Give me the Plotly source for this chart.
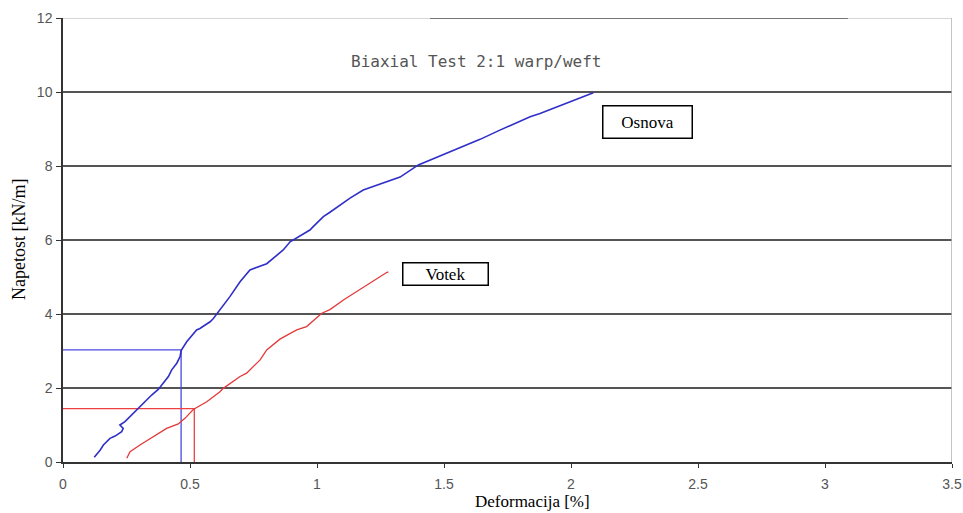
import plotly.graph_objects as go

# Osnova (warp) curve
osnova_x = [0.123, 0.146, 0.159, 0.185, 0.205, 0.231, 0.237, 0.224, 0.244, 0.270, 0.297, 0.323,
            0.349, 0.375, 0.389, 0.408, 0.415, 0.428, 0.448, 0.461, 0.465, 0.487, 0.500, 0.526,
            0.539, 0.579, 0.592, 0.612, 0.657, 0.697, 0.736, 0.802, 0.854, 0.867, 0.894, 0.933,
            0.972, 0.985, 1.025, 1.051, 1.130, 1.182, 1.261, 1.327, 1.399, 1.445, 1.524, 1.642,
            1.720, 1.839, 1.878, 2.088]
osnova_y = [0.13, 0.32, 0.46, 0.64, 0.70, 0.82, 0.91, 1.00, 1.09, 1.27, 1.45, 1.63,
            1.81, 1.96, 2.08, 2.22, 2.31, 2.49, 2.67, 2.85, 3.01, 3.25, 3.35, 3.57,
            3.61, 3.79, 3.88, 4.06, 4.47, 4.87, 5.19, 5.36, 5.64, 5.73, 5.95, 6.12,
            6.27, 6.36, 6.63, 6.75, 7.13, 7.35, 7.53, 7.70, 8.03, 8.16, 8.39, 8.72,
            8.97, 9.33, 9.42, 9.98]

# Votek (weft) curve
votek_x = [0.251, 0.264, 0.303, 0.369, 0.408, 0.454, 0.480, 0.513, 0.566, 0.618, 0.631, 0.697,
           0.723, 0.776, 0.802, 0.854, 0.920, 0.959, 1.019, 1.051, 1.104, 1.274, 1.281]
votek_y = [0.10, 0.28, 0.46, 0.73, 0.91, 1.03, 1.18, 1.42, 1.63, 1.90, 1.99, 2.31,
           2.40, 2.76, 3.03, 3.32, 3.57, 3.66, 4.02, 4.12, 4.38, 5.12, 5.14]

# Guide lines (yield points)
osnova_guide_x = [0, 0.465, 0.465]
osnova_guide_y = [3.03, 3.03, 0]
votek_guide_x = [0, 0.517, 0.517]
votek_guide_y = [1.44, 1.44, 0]

x_ticks = [0, 0.5, 1, 1.5, 2, 2.5, 3, 3.5]
x_tick_labels = ["0", "0.5", "1", "1.5", "2", "2.5", "3", "3.5"]
y_ticks = [0, 2, 4, 6, 8, 10, 12]

BLUE = "#2f2fc8"
RED = "#e23a3a"

fig = go.Figure()
fig.add_trace(go.Scatter(x=osnova_guide_x, y=osnova_guide_y, mode="lines",
                         line=dict(color="#4a4ae0", width=1.3), showlegend=False, hoverinfo="skip"))
fig.add_trace(go.Scatter(x=votek_guide_x, y=votek_guide_y, mode="lines",
                         line=dict(color="#ee4040", width=1.3), showlegend=False, hoverinfo="skip"))
fig.add_trace(go.Scatter(x=osnova_x, y=osnova_y, mode="lines", name="Osnova",
                         line=dict(color=BLUE, width=1.6), showlegend=False))
fig.add_trace(go.Scatter(x=votek_x, y=votek_y, mode="lines", name="Votek",
                         line=dict(color=RED, width=1.3), showlegend=False))

# Top border: dark segment in the middle, light elsewhere; right border light
fig.add_shape(type="line", xref="x", yref="y", x0=0, x1=3.5, y0=12, y1=12,
              line=dict(color="#c8c8c8", width=1.5))
fig.add_shape(type="line", xref="x", yref="y", x0=1.445, x1=3.09, y0=12, y1=12,
              line=dict(color="#555555", width=1.5))
fig.add_shape(type="line", xref="x", yref="y", x0=3.5, x1=3.5, y0=0, y1=12,
              line=dict(color="#b0b0b0", width=1.5))

fig.add_annotation(x=0.4646, y=0.928, xref="paper", yref="paper",
                   text="Biaxial Test 2:1 warp/weft", showarrow=False,
                   font=dict(family="DejaVu Sans Mono", size=16, color="#555555"))
fig.add_annotation(x=2.303, y=9.18, xref="x", yref="y", text="Osnova", showarrow=False,
                   font=dict(family="Liberation Serif", size=17, color="black"),
                   bordercolor="black", borderwidth=1.5, borderpad=6, bgcolor="white",
                   width=76)
fig.add_annotation(x=1.506, y=5.09, xref="x", yref="y", text="Votek", showarrow=False,
                   font=dict(family="Liberation Serif", size=17, color="black"),
                   bordercolor="black", borderwidth=1.5, borderpad=1, bgcolor="white",
                   width=82)
fig.add_annotation(x=(532 - 63) / 889, y=-0.089, xref="paper", yref="paper",
                   text="Deformacija [%]", showarrow=False, xanchor="center", yanchor="middle",
                   font=dict(family="Liberation Serif", size=17, color="black"))
fig.add_annotation(x=(19 - 63) / 889, y=0.5, xref="paper", yref="paper",
                   text="Napetost [kN/m]", showarrow=False, textangle=-90,
                   xanchor="center", yanchor="middle",
                   font=dict(family="Liberation Serif", size=18, color="black"))

fig.update_layout(
    width=963, height=513,
    margin=dict(l=63, r=11, t=18, b=51),
    paper_bgcolor="white", plot_bgcolor="white",
    showlegend=False,
    xaxis=dict(range=[0, 3.5], tickvals=x_ticks, ticktext=x_tick_labels,
               showgrid=False, zeroline=False, showline=True, linecolor="#333333", linewidth=1.5,
               ticks="outside", ticklen=4, tickcolor="#333333", automargin=False,
               ticklabelstandoff=4,
               tickfont=dict(family="Liberation Sans", size=14, color="#555555")),
    yaxis=dict(range=[0, 12], tickvals=y_ticks, showgrid=True, gridcolor="#555555", gridwidth=1.5,
               zeroline=False, showline=True, linecolor="#333333", linewidth=1.5,
               ticks="outside", ticklen=5, tickcolor="#333333", automargin=False,
               ticklabelstandoff=1,
               tickfont=dict(family="Liberation Sans", size=14, color="#555555")),
)

# Remove the default page margin so the figure fills the window exactly.
fig.write_html("out.html", config={"displayModeBar": False},
               post_script="document.body.style.margin='0';document.body.style.overflow='hidden';")
